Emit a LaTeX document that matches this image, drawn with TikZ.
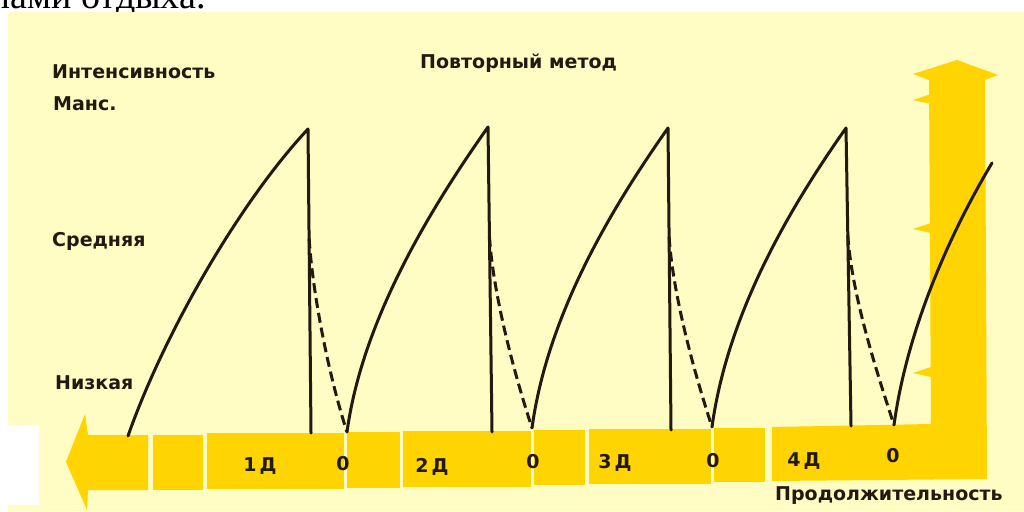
\documentclass[tikz,border=0pt]{standalone}
\usepackage{fontspec}
\setmainfont{DejaVu Sans}
\newfontfamily\bookfont{Liberation Serif}
\usetikzlibrary{calc}
\definecolor{cream}{RGB}{255,252,196}
\definecolor{gold}{RGB}{255,212,0}
\definecolor{ink}{RGB}{35,25,15}
\tikzset{
  curve/.style={draw=ink,line width=3pt,line join=round,line cap=round},
  rest/.style={curve,line cap=butt,dash pattern=on 10pt off 5pt},
  lbl/.style={font=\fontsize{19}{21}\selectfont\bfseries,text=ink,inner sep=0pt},
}
\begin{document}
\begin{tikzpicture}[x=1pt,y=-1pt]
  \clip (0,0) rectangle (1024,511);
  \fill[white] (0,0) rectangle (1024,511);
  \node[anchor=base east,inner sep=0pt,font=\bookfont\fontsize{38}{40}\selectfont] (cut) at (206,9) {лами отдыха.};
  \fill[cream] (8,12) rectangle (1024,511);
  \fill[white] (8,425) rectangle (39,505);
  % time axis
  \fill[gold] (66,462) -- (85,414) -- (88,435) -- (148,435) -- (148,490) -- (88,490) -- (87,510) -- cycle;
  \foreach \a/\b/\t/\u in {153/203/435/490,207/344/433/489,347/400/432/488,403/531/431/487,
                           534/585/430/485,589/711/429/484,714/765/428/482}
    \fill[gold] (\a,\t) rectangle (\b,\u);
  % intensity axis
  \fill[gold] (772,427) -- (931,424) -- (929,80) -- (913,74) -- (957,60) -- (998,75)
    -- (985,80) -- (987,479) -- (772,481) -- cycle;
  \foreach \y in {100,229,373}
    \fill[gold] (931,\y-6) -- (913,\y) -- (931,\y+4) -- cycle;
  % work and rest
  \coordinate (s0) at (128,436);
  \coordinate (end) at (992,163);
  \foreach \n/\px/\py/\bx/\by/\mx/\my in {1/308/129/311/433/347/432,2/488/127/492/432/532/428,
                                         3/668/128/671/430/712/427,4/846/128/851/426/894/425} {
    \coordinate (p\n) at (\px,\py);
    \coordinate (b\n) at (\bx,\by);
    \coordinate (m\n) at (\mx,\my);
    \coordinate (d\n) at ($(p\n)!0.36!(b\n)$);
  }
  \draw[curve] (s0) .. controls +(35,-100) and +(-70,75) .. (p1) -- (b1);
  \foreach \n/\k in {1/2,2/3,3/4}
    \draw[curve] (m\n) .. controls +(15,-110) and +(-60,85) .. (p\k) -- (b\k);
  \draw[curve] (m4) .. controls +(15,-110) and +(-30,50) .. (end);
  \foreach \n in {1,...,4}
    \draw[rest] (d\n) .. controls +(4,60) and +(-17,-52) .. (m\n);
  % labels
  \node[lbl,anchor=base west] (int) at (52,78) {Интенсивность};
  \node[lbl,anchor=base west] (max) at (53,110) {Манс.};
  \node[lbl,anchor=base west] (mid) at (52,246) {Средняя};
  \node[lbl,anchor=base west] (low) at (55,389) {Низкая};
  \node[lbl,anchor=base west] (title) at (420,68) {Повторный метод};
  \node[lbl,anchor=base west] (dur) at (775,500) {Продолжительность};
  \foreach \n/\x/\y/\z/\w in {1/260/471/343/470,2/432/472/533/468,3/615/468/713/467,4/804/466/893/462} {
    \node[lbl,anchor=base] (work\n) at (\x,\y) {\n\,Д};
    \node[lbl,anchor=base] (zero\n) at (\z,\w) {0};
  }
\end{tikzpicture}
\end{document}
